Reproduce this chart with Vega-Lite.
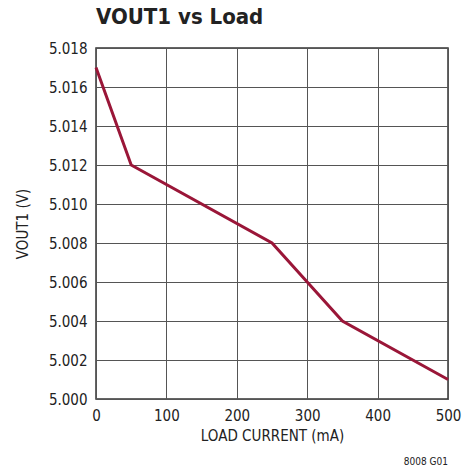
{
  "$schema": "https://vega.github.io/schema/vega-lite/v6.json",
  "width": 352,
  "height": 351,
  "autosize": {"type": "none"},
  "padding": {"left": 96, "top": 48, "right": 16, "bottom": 73},
  "background": "white",
  "title": {
    "text": "VOUT1 vs Load",
    "anchor": "start",
    "frame": "group",
    "font": "DejaVu Sans Condensed, Liberation Sans",
    "fontSize": 22,
    "fontWeight": "bold",
    "color": "#222",
    "offset": 12
  },
  "config": {
    "view": {"stroke": "#333", "strokeWidth": 1.5},
    "axis": {
      "labelFont": "DejaVu Sans Condensed, Liberation Sans",
      "titleFont": "DejaVu Sans Condensed, Liberation Sans",
      "labelFontSize": 15,
      "titleFontSize": 15,
      "labelColor": "#222",
      "titleColor": "#222",
      "titleFontWeight": "normal",
      "gridColor": "#555",
      "gridWidth": 1,
      "gridOpacity": 1,
      "ticks": false,
      "domain": false,
      "labelOverlap": false,
      "labelFlush": false,
      "labelBound": false
    }
  },
  "data": {
    "values": [
      {"load": 0, "v": 5.017},
      {"load": 50, "v": 5.012},
      {"load": 250, "v": 5.008},
      {"load": 300, "v": 5.006},
      {"load": 350, "v": 5.004},
      {"load": 500, "v": 5.001}
    ]
  },
  "layer": [
    {
      "mark": {"type": "line", "color": "#9a1638", "strokeWidth": 3},
      "encoding": {
        "x": {
          "field": "load", "type": "quantitative",
          "scale": {"domain": [0, 500], "nice": false},
          "axis": {"values": [0, 100, 200, 300, 400, 500], "title": "LOAD CURRENT (mA)", "labelPadding": 9, "titlePadding": 5}
        },
        "y": {
          "field": "v", "type": "quantitative",
          "scale": {"domain": [5.0, 5.018], "nice": false, "zero": false},
          "axis": {"tickCount": 9, "format": ".3f", "title": "VOUT1 (V)", "labelPadding": 9, "titlePadding": 18}
        }
      }
    },
    {
      "data": {"values": [{"label": "8008 G01", "load": 500, "v": 5.0}]},
      "mark": {"type": "text", "align": "right", "baseline": "bottom", "dy": 68, "font": "DejaVu Sans Condensed, Liberation Sans", "fontSize": 10, "color": "#222"},
      "encoding": {
        "x": {"field": "load", "type": "quantitative"},
        "y": {"field": "v", "type": "quantitative"},
        "text": {"field": "label"}
      }
    }
  ]
}
